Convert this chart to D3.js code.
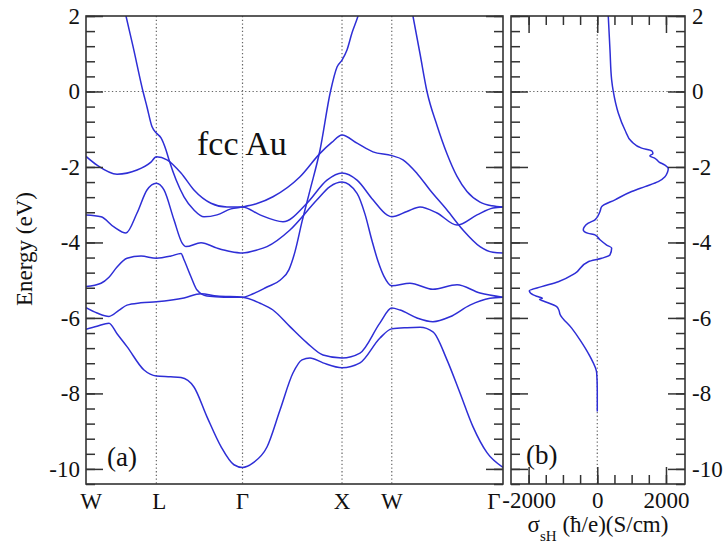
<!DOCTYPE html>
<html><head><meta charset="utf-8">
<script src="https://cdn.jsdelivr.net/npm/d3@7"></script>
<style>
body{margin:0;background:#fff}
svg text{font-family:"Liberation Serif",serif !important;fill:#111}
</style>
</head><body>
<svg id="c" width="723" height="552"></svg>
<script>
// ---- data ----
const kPoints = [0, 0.7071, 1.5731, 2.5731, 3.0731, 4.1911];
const kLabels = ["W", "L", "Γ", "X", "W", "Γ"];
const energyTicks = [2, 0, -2, -4, -6, -8, -10];
const energyMinor = d3.range(-10.4, 2.01, 0.4).map(v => +v.toFixed(2));
const sigmaTicks = [-2000, 0, 2000];
const sigmaMinor = [-2000, -1500, -1000, -500, 0, 500, 1000, 1500, 2000];

const band1 = [[0,-6.30],[0.111,-6.22],[0.231,-6.14],[0.312,-6.42],[0.412,-6.76],[0.583,-7.38],[0.707,-7.54],[0.85,-7.56],[0.955,-7.58],[1.085,-7.83],[1.216,-8.62],[1.357,-9.41],[1.487,-9.89],[1.573,-9.96],[1.679,-9.84],[1.819,-9.42],[1.950,-8.44],[2.080,-7.46],[2.171,-7.11],[2.251,-7.06],[2.382,-7.19],[2.573,-7.32],[2.754,-7.19],[2.955,-6.53],[3.073,-6.29],[3.226,-6.26],[3.357,-6.25],[3.487,-6.37],[3.628,-7.11],[3.759,-7.99],[3.889,-8.88],[4.030,-9.57],[4.191,-9.96]];
const band2 = [[0,-5.73],[0.111,-5.87],[0.231,-5.96],[0.33,-5.80],[0.412,-5.66],[0.55,-5.60],[0.707,-5.57],[0.985,-5.47],[1.156,-5.36],[1.317,-5.42],[1.573,-5.45],[1.749,-5.61],[1.879,-5.79],[2.050,-6.23],[2.221,-6.66],[2.382,-6.98],[2.573,-7.06],[2.754,-6.93],[2.955,-6.13],[3.073,-5.74],[3.156,-5.79],[3.327,-6.00],[3.487,-6.10],[3.658,-5.97],[3.859,-5.66],[4.060,-5.48],[4.191,-5.45]];
const band3 = [[0,-5.17],[0.151,-5.08],[0.231,-4.92],[0.312,-4.65],[0.412,-4.42],[0.553,-4.36],[0.707,-4.42],[0.854,-4.36],[0.955,-4.29],[0.985,-4.46],[1.055,-4.91],[1.116,-5.26],[1.216,-5.42],[1.387,-5.45],[1.573,-5.45],[1.679,-5.36],[1.819,-5.18],[1.950,-5.00],[2.040,-4.72],[2.100,-4.25],[2.171,-3.45],[2.251,-2.62],[2.352,-1.55],[2.457,0.0],[2.523,0.65],[2.573,0.83],[2.623,1.10],[2.673,1.55],[2.734,2.0],[2.85,3.2],[2.95,3.8],[3.073,4.0],[3.2,3.2],[3.286,2.0],[3.357,1.0],[3.427,0.0],[3.528,-0.9],[3.628,-1.65],[3.729,-2.25],[3.829,-2.65],[3.960,-2.93],[4.080,-3.03],[4.191,-3.06]];
const band4 = [[0,-3.27],[0.151,-3.32],[0.281,-3.59],[0.402,-3.75],[0.513,-3.22],[0.613,-2.61],[0.707,-2.43],[0.784,-2.61],[0.884,-3.40],[0.965,-4.01],[1.005,-4.11],[1.156,-4.01],[1.317,-4.15],[1.45,-4.24],[1.573,-4.28],[1.719,-4.20],[1.819,-4.11],[2.050,-3.67],[2.322,-2.87],[2.452,-2.52],[2.573,-2.40],[2.724,-2.70],[2.804,-3.25],[2.874,-3.95],[2.935,-4.50],[2.995,-4.90],[3.073,-5.15],[3.256,-5.08],[3.487,-5.24],[3.729,-5.12],[3.960,-5.34],[4.191,-5.45]];
const band5 = [[0,-1.72],[0.111,-1.95],[0.312,-2.19],[0.513,-2.08],[0.653,-1.87],[0.707,-1.73],[0.814,-1.81],[0.955,-2.16],[1.085,-2.61],[1.256,-2.96],[1.417,-3.06],[1.573,-3.06],[1.749,-3.27],[1.980,-3.45],[2.221,-2.96],[2.422,-2.35],[2.573,-2.16],[2.724,-2.35],[2.884,-2.87],[3.025,-3.27],[3.073,-3.32],[3.226,-3.18],[3.357,-3.06],[3.528,-3.22],[3.729,-3.54],[3.930,-3.27],[4.090,-3.09],[4.191,-3.06]];
const band6 = [[0.30,3.2],[0.402,2.0],[0.472,1.2],[0.573,0.0],[0.613,-0.41],[0.663,-0.93],[0.707,-1.10],[0.754,-1.23],[0.804,-1.55],[0.834,-1.81],[0.905,-2.34],[0.985,-2.79],[1.085,-3.14],[1.186,-3.32],[1.317,-3.27],[1.457,-3.11],[1.573,-3.06],[1.719,-2.97],[1.879,-2.79],[2.151,-2.26],[2.352,-1.64],[2.470,-1.35],[2.573,-1.15],[2.724,-1.37],[2.884,-1.60],[3.073,-1.70],[3.186,-1.81],[3.327,-2.17],[3.457,-2.61],[3.628,-3.14],[3.789,-3.67],[3.960,-4.11],[4.090,-4.26],[4.191,-4.28]];
const bands = [band1, band2, band3, band4, band5, band6];

const shcEnergy = [2.0, 1.1, 0.3, 0.0, -0.57, -1.02, -1.33, -1.50, -1.57, -1.64, -1.71, -1.77, -1.87, -1.95, -2.05, -2.15, -2.26, -2.39, -2.52, -2.65, -2.87, -3.05, -3.18, -3.40, -3.49, -3.67, -3.76, -3.80, -3.93, -4.07, -4.15, -4.33, -4.42, -4.51, -4.82, -5.04, -5.17, -5.28, -5.39, -5.44, -5.48, -5.51, -5.55, -5.70, -5.79, -5.90, -6.27, -6.58, -7.02, -7.46, -7.91, -8.48];
const shcValue = [320, 370, 419, 466, 611, 806, 1001, 1293, 1584, 1620, 1530, 1680, 1800, 1971, 2067, 2040, 1971, 1776, 1389, 1001, 515, 128, 79, -67, -262, -408, -262, -67, 79, 274, 419, 370, 128, -262, -649, -1135, -1619, -1979, -1863, -1717, -1600, -1680, -1572, -1182, -1120, -1086, -745, -504, -213, -17, 0, 0];

// ---- layout ----
const svg = d3.select("#c");
const A = {l: 86, r: 503, t: 16, b: 484};
const B = {l: 511, r: 685, t: 16, b: 484};
const blue = "#2e2ed6", frame = "#333", grid = "#666";
const serif = "'Liberation Serif', serif";
const y = d3.scaleLinear().domain([-10.4, 2]).range([A.b, A.t]);
const xa = d3.scaleLinear().domain([0, kPoints[5]]).range([A.l, A.r]);
const xb = d3.scaleLinear().domain([-2512, 2554]).range([B.l, B.r]);
const fmt = d => String(d);

const defs = svg.append("defs");
defs.append("clipPath").attr("id", "ca").append("rect").attr("x", A.l).attr("y", A.t).attr("width", A.r - A.l).attr("height", A.b - A.t);
defs.append("clipPath").attr("id", "cb").append("rect").attr("x", B.l).attr("y", B.t).attr("width", B.r - B.l).attr("height", B.b - B.t);

function dotted(sel) {
  return sel.attr("stroke", grid).attr("stroke-width", 1.2).attr("stroke-dasharray", "1.3,2.4");
}
// grid lines panel a
const ga = svg.append("g").attr("clip-path", "url(#ca)");
ga.selectAll("line.v").data(kPoints.slice(1, 5)).join("line")
  .attr("x1", d => xa(d)).attr("x2", d => xa(d)).attr("y1", A.t).attr("y2", A.b).call(dotted);
ga.append("line").attr("x1", A.l).attr("x2", A.r).attr("y1", y(0)).attr("y2", y(0)).call(dotted);

const line = d3.line().x(d => xa(d[0])).y(d => y(d[1])).curve(d3.curveMonotoneX);
ga.selectAll("path.band").data(bands).join("path")
  .attr("fill", "none").attr("stroke", blue).attr("stroke-width", 1.5).attr("d", line);

// panel b
const gb = svg.append("g").attr("clip-path", "url(#cb)");
gb.append("line").attr("x1", xb(0)).attr("x2", xb(0)).attr("y1", B.t).attr("y2", B.b).call(dotted);
gb.append("line").attr("x1", B.l).attr("x2", B.r).attr("y1", y(0)).attr("y2", y(0)).call(dotted);
const shc = shcEnergy.map((e, i) => [shcValue[i], e]);
gb.append("path").datum(shc).attr("fill", "none").attr("stroke", blue).attr("stroke-width", 1.5)
  .attr("d", d3.line().x(d => xb(d[0])).y(d => y(d[1])).curve(d3.curveMonotoneY));

// axes helpers
function styleAxis(g) {
  g.attr("font-family", null);
  g.select(".domain").remove();
  g.selectAll(".tick line").attr("stroke", frame).attr("stroke-width", 1.5);
  g.selectAll(".tick text").style("font-family", serif).attr("font-size", 23).attr("fill", "#111");
}
function addAxis(tx, ty, axis) {
  return svg.append("g").attr("transform", `translate(${tx},${ty})`).call(axis).call(styleAxis);
}
// panel a
addAxis(A.l, 0, d3.axisLeft(y).tickValues(energyMinor).tickSize(-9).tickFormat(""));
addAxis(A.l, 0, d3.axisLeft(y).tickValues(energyTicks).tickSize(-17).tickPadding(6).tickFormat(fmt));
addAxis(A.r, 0, d3.axisRight(y).tickValues(energyMinor).tickSize(-9).tickFormat(""));
addAxis(A.r, 0, d3.axisRight(y).tickValues(energyTicks).tickSize(-17).tickFormat(""));
// panel b
addAxis(B.l, 0, d3.axisLeft(y).tickValues(energyMinor).tickSize(-9).tickFormat(""));
addAxis(B.l, 0, d3.axisLeft(y).tickValues(energyTicks).tickSize(-17).tickFormat(""));
addAxis(B.r, 0, d3.axisRight(y).tickValues(energyMinor).tickSize(-9).tickFormat(""));
addAxis(B.r, 0, d3.axisRight(y).tickValues(energyTicks).tickSize(-17).tickPadding(7).tickFormat(fmt));
addAxis(0, B.t, d3.axisTop(xb).tickValues(sigmaMinor).tickSize(-9).tickFormat(""));
addAxis(0, B.t, d3.axisTop(xb).tickValues(sigmaTicks).tickSize(-17).tickFormat(""));
addAxis(0, B.b, d3.axisBottom(xb).tickValues(sigmaMinor).tickSize(-9).tickFormat(""));
addAxis(0, B.b, d3.axisBottom(xb).tickValues(sigmaTicks).tickSize(-17).tickPadding(8).tickFormat(fmt))
  .selectAll(".tick text").attr("dy", "0.71em");

// frames
svg.append("rect").attr("x", A.l).attr("y", A.t).attr("width", A.r - A.l).attr("height", A.b - A.t)
  .attr("fill", "none").attr("stroke", frame).attr("stroke-width", 1.6);
svg.append("rect").attr("x", B.l).attr("y", B.t).attr("width", B.r - B.l).attr("height", B.b - B.t)
  .attr("fill", "none").attr("stroke", frame).attr("stroke-width", 1.6);

// k labels
const kOffset = [5, 3, 0, 0, 0, -9];
svg.selectAll("text.k").data(kPoints).join("text").attr("class", "k")
  .attr("x", (d, i) => xa(d) + kOffset[i]).attr("y", 509).attr("text-anchor", "middle")
  .style("font-family", serif).attr("font-size", 23).text((d, i) => kLabels[i]);

// axis titles
svg.append("text").attr("transform", "translate(32,249) rotate(-90)").attr("text-anchor", "middle")
  .style("font-family", serif).attr("font-size", 23).text("Energy (eV)");
const st = svg.append("text").attr("x", 598).attr("y", 532).attr("text-anchor", "middle")
  .style("font-family", serif).attr("font-size", 23);
st.append("tspan").text("σ");
st.append("tspan").attr("font-size", 15).attr("dy", 9).text("sH");
st.append("tspan").attr("dy", -9).text(" (ħ/e)(S/cm)");

// annotations
svg.append("text").attr("x", 197).attr("y", 155).style("font-family", serif).attr("font-size", 34).text("fcc Au");
svg.append("text").attr("x", 107).attr("y", 466).style("font-family", serif).attr("font-size", 27).text("(a)");
svg.append("text").attr("x", 526).attr("y", 464).style("font-family", serif).attr("font-size", 27).text("(b)");
</script>
</body></html>
